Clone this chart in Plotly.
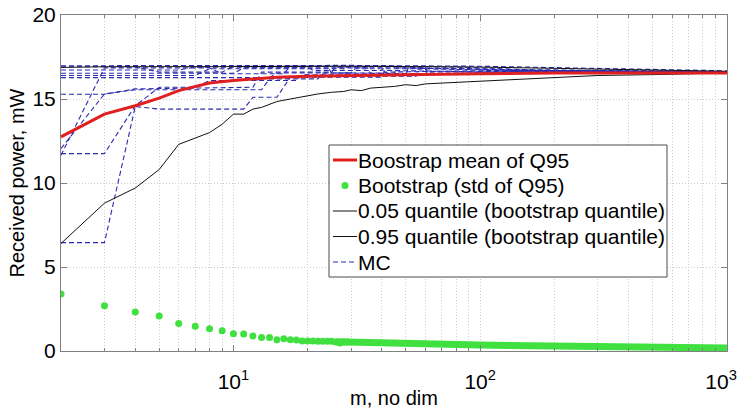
import math
import plotly.graph_objects as go

# ---------------- data ----------------
# Bootstrap std of Q95 (individual dots)
m_std = list(range(2, 30))
std_vals = [3.39, 2.70, 2.32, 2.08, 1.63, 1.47, 1.33, 1.21, 1.03,
            1.01, 0.89, 0.81, 0.81, 0.67, 0.73, 0.67, 0.65, 0.60, 0.60,
            0.60, 0.58, 0.58, 0.58, 0.58, 0.54, 0.48, 0.54, 0.54]
# dense tail of the std dots (merged into a band)
m_std_tail = [26, 30, 35, 40, 50, 60, 70, 80, 100, 130, 170, 200, 300, 400, 500, 700, 1000]
std_tail = [0.55, 0.54, 0.52, 0.50, 0.46, 0.43, 0.41, 0.39, 0.36, 0.33, 0.31, 0.30,
            0.27, 0.25, 0.22, 0.20, 0.18]

# Bootstrap mean of Q95
m_mean = [2, 3, 4, 5, 6, 7, 8, 10, 12, 15, 20, 30, 50, 100, 200, 500, 1000]
mean_vals = [12.75, 14.1, 14.6, 15.05, 15.5, 15.75, 15.95, 16.1, 16.2, 16.3, 16.35,
             16.4, 16.45, 16.5, 16.55, 16.55, 16.55]

# 0.05 quantile
m_q05 = [2, 3, 4, 5, 6, 7, 8, 9, 10, 11, 12, 13, 14, 15,
         17, 20, 22, 25, 28, 30, 33, 36, 40, 45, 50, 55, 60,
         70, 80, 100, 130, 160, 200, 300, 500, 700, 1000]
q05_vals = [6.4, 8.8, 9.7, 10.8, 12.3, 12.7, 13.0, 13.5, 14.1, 14.1, 14.4, 14.5, 14.7, 14.85,
            15.0, 15.2, 15.3, 15.4, 15.45, 15.55, 15.5, 15.65, 15.7, 15.75, 15.85, 15.8, 15.9,
            15.95, 16.0, 16.05, 16.15, 16.2, 16.3, 16.4, 16.45, 16.5, 16.55]

# 0.95 quantile
m_q95 = [2, 3, 10, 30, 100, 300, 1000]
q95_vals = [16.88, 16.92, 16.93, 16.95, 16.9, 16.8, 16.65]

# Monte Carlo runs (step-like)
mc_m = [
    [2, 5, 30, 100, 300, 1000],
    [2, 6, 7, 20, 21, 40, 41, 80, 150, 400, 1000],
    [2, 14, 15, 30, 31, 60, 61, 200, 1000],
    [2, 3, 4, 12, 13, 25, 26, 60, 61, 150, 1000],
    [2, 3, 8, 9, 16, 17, 40, 41, 120, 1000],
    [2, 3, 4, 13, 14, 22, 23, 70, 200, 1000],
    [2, 3, 4, 5, 7, 8, 18, 19, 50, 51, 100, 300, 1000],
    [2, 3, 4, 5, 11, 12, 15, 17, 40, 41, 120, 1000],
    [2, 10, 11, 35, 36, 90, 250, 1000],
    [2, 4, 5, 9, 10, 24, 25, 45, 46, 110, 300, 1000],
    [2, 7, 8, 28, 29, 55, 56, 140, 500, 1000],
]
mc_v = [
    [16.98, 16.98, 17.0, 16.95, 16.8, 16.68],
    [16.73, 16.73, 16.9, 16.9, 16.7, 16.7, 16.95, 16.9, 16.75, 16.7, 16.62],
    [16.27, 16.27, 16.55, 16.55, 16.8, 16.8, 16.5, 16.6, 16.6],
    [15.28, 15.28, 15.6, 15.7, 16.6, 16.6, 16.9, 16.9, 16.6, 16.65, 16.6],
    [11.65, 16.85, 16.85, 16.5, 16.5, 16.95, 16.95, 16.6, 16.7, 16.6],
    [12.05, 15.3, 15.55, 15.55, 16.2, 16.2, 16.55, 16.5, 16.7, 16.6],
    [11.75, 11.75, 14.6, 15.7, 15.7, 16.1, 16.1, 16.45, 16.4, 16.85, 16.8, 16.6, 16.6],
    [6.45, 6.45, 14.55, 14.4, 14.4, 15.1, 15.1, 16.3, 16.3, 16.7, 16.6, 16.6],
    [16.53, 16.53, 16.85, 16.85, 16.45, 16.5, 16.7, 16.62],
    [16.92, 16.92, 16.6, 16.6, 16.95, 16.95, 16.55, 16.55, 16.85, 16.75, 16.65, 16.6],
    [16.4, 16.4, 16.8, 16.8, 16.35, 16.35, 16.8, 16.7, 16.65, 16.6],
]

legend_labels = ["Boostrap mean of Q95", "Bootstrap (std of Q95)",
                 "0.05 quantile (bootstrap quantile)", "0.95 quantile (bootstrap quantile)", "MC"]
x_tickvals = [10, 100, 1000]
x_ticktext = ["10<sup>1</sup>", "10<sup>2</sup>", "10<sup>3</sup>\u00a0\u00a0"]
y_tickvals = [0, 5, 10, 15, 20]

# ---------------- styles ----------------
RED = "#e02020"
GREEN = "#3fe03f"
BLUE = "#2a2ab0"
BLACK = "#111111"
FONT = "Liberation Sans, Arial, sans-serif"

W, H = 741, 409
L, R, T, B = 61, 14, 15, 58
PW, PH = W - L - R, H - T - B


def px2x(px):
    return (px - L) / PW


def px2y(py):
    return (T + PH - py) / PH


fig = go.Figure()

for mm, vv in zip(mc_m, mc_v):
    fig.add_trace(go.Scatter(x=mm, y=vv, mode="lines",
                             line=dict(color=BLUE, width=1.1, dash="5px,3px"),
                             showlegend=False, hoverinfo="skip"))

fig.add_trace(go.Scatter(x=m_q05, y=q05_vals, mode="lines",
                         line=dict(color=BLACK, width=1), showlegend=False))
fig.add_trace(go.Scatter(x=m_q95, y=q95_vals, mode="lines",
                         line=dict(color=BLACK, width=1), showlegend=False))
fig.add_trace(go.Scatter(x=m_mean, y=mean_vals, mode="lines",
                         line=dict(color=RED, width=3), showlegend=False))

fig.add_trace(go.Scatter(x=m_std_tail, y=std_tail, mode="lines",
                         line=dict(color=GREEN, width=7), showlegend=False))
fig.add_trace(go.Scatter(x=m_std, y=std_vals, mode="markers",
                         marker=dict(color=GREEN, size=7), showlegend=False))

grid_minor = [2, 3, 4, 5, 6, 7, 8, 9, 20, 30, 40, 50, 60, 70, 80, 90,
              200, 300, 400, 500, 600, 700, 800, 900]

AX = "#808080"
GRID = "#cccccc"
GDASH = "1px,2px"
fig.update_xaxes(type="log", range=[math.log10(2), 3.0005],
                 tickmode="array", tickvals=x_tickvals, ticktext=x_ticktext,
                 ticks="inside", ticklen=6, tickcolor=AX, ticklabelstandoff=12,
                 ticklabeloverflow="allow",
                 showline=True, linecolor=AX, linewidth=1, mirror="allticks",
                 showgrid=True, gridcolor=GRID, griddash=GDASH, gridwidth=1,
                 minor=dict(tickmode="array", tickvals=grid_minor, ticks="inside", ticklen=3,
                            tickcolor=AX, showgrid=True, gridcolor=GRID, griddash=GDASH),
                 zeroline=False, tickfont=dict(size=21, color="black"),
                 title=dict(text="m, no dim", font=dict(size=20, color="black"), standoff=6))
fig.update_yaxes(range=[0, 20], tickmode="array", tickvals=y_tickvals,
                 ticks="inside", ticklen=6, tickcolor=AX,
                 showline=True, linecolor=AX, linewidth=1, mirror="allticks",
                 showgrid=True, gridcolor=GRID, griddash=GDASH, gridwidth=1,
                 zeroline=False, tickfont=dict(size=21, color="black"),
                 title=dict(text="Received power, mW", font=dict(size=20, color="black"), standoff=2))

# ---------------- manual legend ----------------
box = dict(x0=329, x1=667, y0=145, y1=277)
shapes = [dict(type="rect", xref="paper", yref="paper",
               x0=px2x(box["x0"]), x1=px2x(box["x1"]), y0=px2y(box["y1"]), y1=px2y(box["y0"]),
               line=dict(color="#4a4a4a", width=1), fillcolor="white", layer="above")]
rows = [160, 185.5, 211, 236.5, 262]
sym_styles = [dict(color=RED, width=3), None, dict(color=BLACK, width=1),
              dict(color=BLACK, width=1), dict(color=BLUE, width=1.1, dash="5px,3px")]
for ry, st in zip(rows, sym_styles):
    if st is None:
        shapes.append(dict(type="circle", xref="paper", yref="paper",
                           xsizemode="pixel", ysizemode="pixel",
                           xanchor=px2x(345), yanchor=px2y(ry),
                           x0=-3.5, x1=3.5, y0=-3.5, y1=3.5,
                           fillcolor=GREEN, line=dict(width=0), layer="above"))
    else:
        shapes.append(dict(type="line", xref="paper", yref="paper",
                           x0=px2x(333), x1=px2x(357), y0=px2y(ry), y1=px2y(ry),
                           line=st, layer="above"))
annotations = [dict(text=lab, xref="paper", yref="paper", x=px2x(356), y=px2y(ry),
                    xanchor="left", yanchor="middle", showarrow=False,
                    font=dict(size=21, color="black", family=FONT))
               for lab, ry in zip(legend_labels, rows)]

fig.update_layout(width=W, height=H, margin=dict(l=L, r=R, t=T, b=B, autoexpand=False),
                  paper_bgcolor="white", plot_bgcolor="white", showlegend=False,
                  font=dict(family=FONT, size=20, color="black"),
                  shapes=shapes, annotations=annotations)

fig.write_html("out.html")
